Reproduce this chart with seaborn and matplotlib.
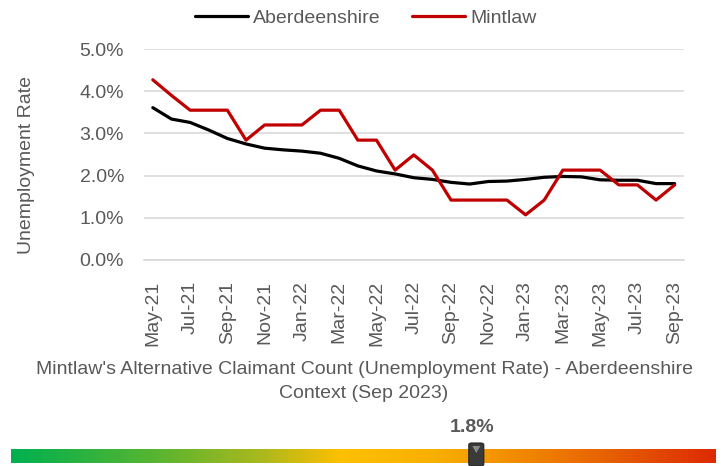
import numpy as np
import pandas as pd
import matplotlib
matplotlib.use("Agg")
import matplotlib.pyplot as plt
import seaborn as sns
from matplotlib.colors import LinearSegmentedColormap
from matplotlib.patches import FancyBboxPatch, Polygon

months = ["May-21", "Jun-21", "Jul-21", "Aug-21", "Sep-21", "Oct-21", "Nov-21", "Dec-21",
          "Jan-22", "Feb-22", "Mar-22", "Apr-22", "May-22", "Jun-22", "Jul-22", "Aug-22",
          "Sep-22", "Oct-22", "Nov-22", "Dec-22", "Jan-23", "Feb-23", "Mar-23", "Apr-23",
          "May-23", "Jun-23", "Jul-23", "Aug-23", "Sep-23"]
aberdeenshire = [3.61, 3.34, 3.26, 3.08, 2.88, 2.75, 2.65, 2.61, 2.58, 2.53, 2.41, 2.23,
                 2.11, 2.04, 1.95, 1.91, 1.84, 1.80, 1.86, 1.87, 1.91, 1.96, 1.98, 1.97,
                 1.90, 1.89, 1.89, 1.81, 1.81]
mintlaw = [4.27, 3.90, 3.55, 3.55, 3.55, 2.84, 3.20, 3.20, 3.20, 3.55, 3.55, 2.84,
           2.84, 2.13, 2.49, 2.13, 1.42, 1.42, 1.42, 1.42, 1.07, 1.42, 2.13, 2.13,
           2.13, 1.78, 1.78, 1.42, 1.78]
latest_value = "1.8%"
marker_frac = 0.66

sns.set_style("white")
plt.rcParams['font.family'] = ['Liberation Sans', 'DejaVu Sans']
grey = "#595959"
fs = 14

df = pd.DataFrame({
    "idx": list(range(len(months))) * 2,
    "rate": aberdeenshire + mintlaw,
    "area": ["Aberdeenshire"] * len(months) + ["Mintlaw"] * len(months),
})

W, H = 728, 466
fig = plt.figure(figsize=(W / 100, H / 100), dpi=100)
ax = fig.add_axes([143.5 / W, 1 - 260 / H, (684 - 143.5) / W, (260 - 49) / H])

sns.lineplot(data=df, x="idx", y="rate", hue="area",
             palette={"Aberdeenshire": "black", "Mintlaw": "#c00000"},
             linewidth=2.3, ax=ax)

ax.set_xlim(-0.5, len(months) - 0.5)
ax.set_ylim(0, 5)
ax.set_yticks(np.arange(0, 5.1, 1))
ax.set_yticklabels([f"{v:.1f}%" for v in np.arange(0, 5.1, 1)])
ax.grid(axis="y", color="#d9d9d9", linewidth=1.2)
ax.set_xticks(range(0, len(months), 2))
ax.set_xticklabels(months[::2], rotation=90)
ax.set_xticks(np.arange(-0.5, len(months) - 1, 2), minor=True)
ax.tick_params(axis="x", which="major", length=0, pad=15, labelsize=fs, labelcolor=grey)
ax.tick_params(axis="x", which="minor", length=5, width=1, color="#d9d9d9", direction="out")
ax.tick_params(axis="y", length=0, pad=14, labelsize=fs, labelcolor=grey)
for s in ["top", "right", "left"]:
    ax.spines[s].set_visible(False)
ax.spines["bottom"].set_color("#d9d9d9")
ax.spines["bottom"].set_linewidth(1.2)
ax.set_xlabel("")
ax.set_ylabel("Unemployment Rate", fontsize=fs, color=grey)
ax.yaxis.set_label_coords((35 - 143.5) / 540.5, 0.45)

ax.legend(loc="center", bbox_to_anchor=(366 / W, 1 - 18 / H), bbox_transform=fig.transFigure,
          ncol=2, frameon=False, fontsize=fs, handlelength=2.7, columnspacing=1.6,
          handletextpad=0.3, labelcolor=grey)

fig.text(364 / W, 1 - 369 / H, "Mintlaw's Alternative Claimant Count (Unemployment Rate) - Aberdeenshire",
         ha="center", va="center", fontsize=fs, color=grey)
fig.text(364 / W, 1 - 393 / H, "Context (Sep 2023)", ha="center", va="center", fontsize=fs, color=grey)

# gradient scale bar
cmap = LinearSegmentedColormap.from_list("scale", [
    (0.0, "#00b050"), (0.2, "#55b531"), (0.35, "#a8b81e"), (0.47, "#ffc000"),
    (0.6, "#f8b000"), (0.72, "#f28a00"), (0.86, "#e65c00"), (1.0, "#dd2a00")])
bx0, bx1 = 11, 716
bax = fig.add_axes([bx0 / W, 1 - 463 / H, (bx1 - bx0) / W, 14 / H])
bax.imshow(np.linspace(0, 1, 512)[None, :], aspect="auto", cmap=cmap, extent=[0, 1, 0, 1])
bax.set_xlim(0, 1)
bax.set_ylim(0, 1)
bax.axis("off")

mx = bx0 / W + marker_frac * ((bx1 - bx0) / W)
mw, mh = 15 / W, 23 / H
my = 1 - 466 / H
fig.patches.append(FancyBboxPatch((mx - mw / 2, my), mw, mh, boxstyle="round,pad=0,rounding_size=0.004",
                                  transform=fig.transFigure, facecolor="#3a3a3a", edgecolor="#222222",
                                  linewidth=0.8, zorder=5))
fig.patches.append(Polygon([(mx - 4 / W, my + mh - 3 / H), (mx + 4 / W, my + mh - 3 / H), (mx, my + mh - 10 / H)],
                           closed=True, transform=fig.transFigure, facecolor="#8a8a8a", edgecolor="none", zorder=6))
fig.text(mx - 4 / W, 1 - 428 / H, latest_value, ha="center", va="center", fontsize=fs,
         fontweight="bold", color=grey)

fig.savefig("out.png", dpi=100)
